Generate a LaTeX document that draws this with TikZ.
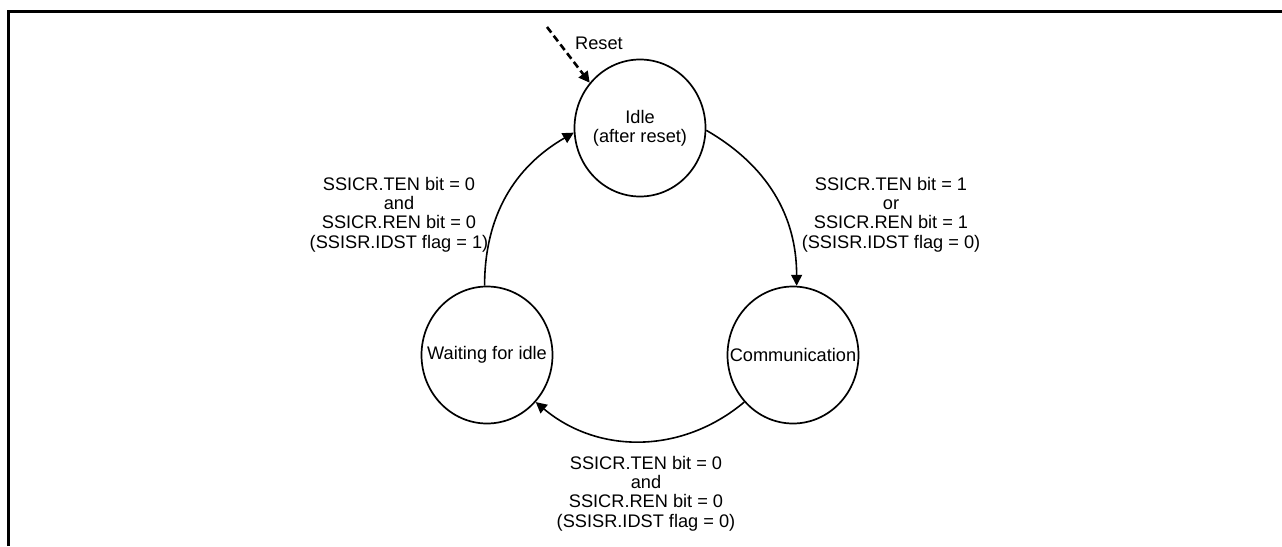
\documentclass[tikz,border=0pt]{standalone}
\usepackage{fontspec}
\setmainfont{Liberation Sans}
\usepackage{tikz}
\usetikzlibrary{arrows.meta,shapes.geometric}

\begin{document}
\begin{tikzpicture}[x=1pt,y=-1pt,font=\fontsize{18.2}{19.4}\selectfont]
\tikzstyle{state}=[draw, ellipse, line width=1.7pt, inner sep=0pt, minimum width=131pt, minimum height=137pt]
\tikzstyle{cond}=[align=center, inner sep=0pt]
\tikzstyle{tip}=[-{Triangle[length=11pt,width=11pt]}]
\tikzstyle{trans}=[tip, line width=1.6pt]

\useasboundingbox (0,0) rectangle (1282,546);
\draw[line width=3pt] (8.5,546) -- (8.5,11.5) -- (1282,11.5);

\node[state, label={[align=center]center:Idle\\(after reset)}] (idle) at (640,128) {};
\node[state, label={center:Communication}] (comm) at (793,355) {};
\node[state, label={center:Waiting for idle}] (wait) at (487,355) {};

\node[cond] (rstlbl) at (599,43.5) {Reset};
\node[cond] (gocond) at (891,214.4) {SSICR.TEN bit = 1\\or\\SSICR.REN bit = 1\\(SSISR.IDST flag = 0)};
\node[cond] (stopcond) at (646,493.4) {SSICR.TEN bit = 0\\and\\SSICR.REN bit = 0\\(SSISR.IDST flag = 0)};
\node[cond] (upcond) at (399,214.4) {SSICR.TEN bit = 0\\and\\SSICR.REN bit = 0\\(SSISR.IDST flag = 1)};

\coordinate (rst) at (547,27);
\draw[tip, line width=2.6pt, dash pattern=on 7pt off 4pt] (rst) -- (idle.138);
\draw[trans] (idle.-2) to[out=-30,in=90] (comm.87);
\draw[trans] (comm.-136) to[out=-140,in=-40] (wait.-44);
\draw[trans] (wait.92) to[out=90,in=-150] (idle.184);
\end{tikzpicture}
\end{document}
